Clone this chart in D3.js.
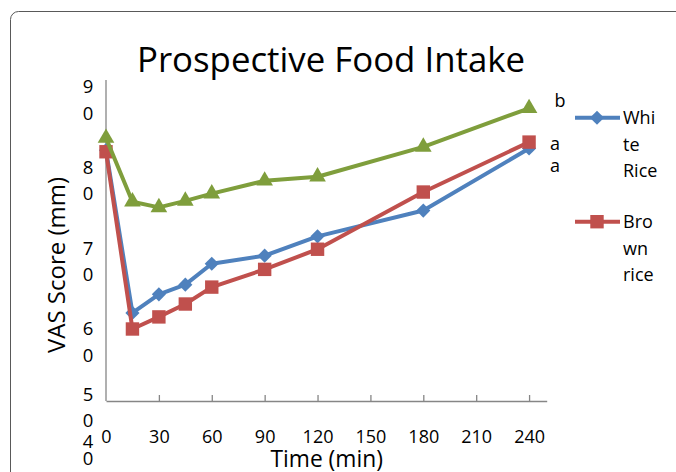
<!DOCTYPE html>
<html>
<head>
<meta charset="utf-8">
<script src="https://cdn.jsdelivr.net/npm/d3@7"></script>
<style>
  body { margin: 0; background: #fff; }
  svg { display: block; }
  text { font-family: "Open Sans", sans-serif; fill: #000; }
</style>
</head>
<body>
<div id="chart"></div>
<script>
// values (VAS score, mm)
var times      = [0, 15, 30, 45, 60, 90, 120, 180, 240];
var whiteRice  = [83.8, 63.6, 65.9, 67.1, 69.7, 70.7, 73.1, 76.3, 84.0];
var brownRice  = [83.6, 61.6, 63.1, 64.7, 66.8, 69.0, 71.5, 78.6, 84.8];
var thirdSeries = [85.3, 77.4, 76.7, 77.5, 78.4, 80.0, 80.5, 84.2, 89.0];

var xTicks = [0, 30, 60, 90, 120, 150, 180, 210, 240];
var yTicks = [40, 50, 60, 70, 80, 90];

// legend names, wrapped the way the original wraps them
var legendNames = [["Whi", "te", "Rice"], ["Bro", "wn", "rice"]];
// significance letters at the 240 min end: [letter, series index]
var sigLetters = [["b", 2], ["a", 1], ["a", 0]];

var W = 676, H = 472;
var plot = {left: 106, right: 546.7, top: 80, bottom: 401};

var x = d3.scaleLinear().domain([0, 250]).range([plot.left, plot.right]);
var y = d3.scaleLinear().domain([40, 90]).range([503, 100.2]);

var series = [
  {name: "White Rice", values: whiteRice,  color: "#4F81BD", marker: "diamond"},
  {name: "Brown rice", values: brownRice,  color: "#C0504D", marker: "square"},
  {name: "",           values: thirdSeries, color: "#7F9E3C", marker: "triangle"}
];

var svg = d3.select("#chart").append("svg")
    .attr("width", W)
    .attr("height", H);

// chart area frame (runs off the right and bottom edge)
svg.append("rect")
    .attr("x", 10.5).attr("y", 11.5)
    .attr("width", 720).attr("height", 520)
    .attr("rx", 8)
    .attr("fill", "none")
    .attr("stroke", "#595959")
    .attr("stroke-width", 1);

svg.append("text")
    .attr("x", 331).attr("y", 71.7)
    .attr("text-anchor", "middle")
    .style("font-size", "34.8px")
    .text("Prospective Food Intake");

// axes
var xAxis = d3.axisBottom(x)
    .tickValues(xTicks)
    .tickSizeInner(-6)
    .tickSizeOuter(0)
    .tickPadding(0)
    .tickFormat(d3.format("d"));

var gx = svg.append("g")
    .attr("transform", "translate(0," + plot.bottom + ")")
    .call(xAxis);
gx.select(".domain").attr("stroke", "#868686").attr("stroke-width", 1.3);
gx.selectAll(".tick line").attr("stroke", "#868686").attr("stroke-width", 1.3)
    .attr("display", function(d) { return d === 0 ? "none" : null; });
gx.selectAll(".tick text")
    .attr("y", 42).attr("dy", null)
    .attr("fill", "#000")
    .style("font-size", "18px")
    .style("font-family", "'Open Sans', sans-serif");

svg.append("line")
    .attr("x1", plot.left).attr("x2", plot.left)
    .attr("y1", plot.top).attr("y2", plot.bottom)
    .attr("stroke", "#868686").attr("stroke-width", 1.3);

// y tick labels: wrapped digit by digit; the lowest ones get pushed up so they stack,
// and the very last one is squeezed against the bottom edge
var yLab = svg.append("g").selectAll("g")
    .data(yTicks)
  .enter().append("g")
    .attr("transform", function(d, i) {
      var c = Math.min(y(d), 450 - 42.5 * i);
      return "translate(88," + c + ")";
    });
yLab.selectAll("text")
    .data(function(d, i) {
      var gap = i === 0 ? 16.5 : 26.5;
      return String(d).split("").map(function(ch) { return {ch: ch, gap: gap}; });
    })
  .enter().append("text")
    .attr("y", function(d, i) { return (i - 0.5) * d.gap; })
    .attr("dy", "0.35em")
    .attr("text-anchor", "middle")
    .style("font-size", "18.5px")
    .text(function(d) { return d.ch; });

svg.append("text")
    .attr("transform", "translate(57,265) rotate(-90)")
    .attr("text-anchor", "middle")
    .attr("dy", "0.35em")
    .style("font-size", "24px")
    .text("VAS Score (mm)");

svg.append("text")
    .attr("x", 326.7).attr("y", 467)
    .attr("text-anchor", "middle")
    .style("font-size", "22.8px")
    .text("Time (min)");

// series
var line = d3.line()
    .x(function(d, i) { return x(times[i]); })
    .y(function(d) { return y(d); });

function markerPath(kind) {
  if (kind === "diamond") return d3.symbol().type(d3.symbolSquare).size(100)();
  if (kind === "square") return d3.symbol().type(d3.symbolSquare).size(180)();
  return d3.symbol().type(d3.symbolTriangle).size(120)();
}

var sg = svg.append("g").selectAll("g")
    .data(series)
  .enter().append("g");

sg.append("path")
    .attr("d", function(s) { return line(s.values); })
    .attr("fill", "none")
    .attr("stroke", function(s) { return s.color; })
    .attr("stroke-width", 4)
    .attr("stroke-linejoin", "round");

sg.selectAll("path.mk")
    .data(function(s) { return s.values.map(function(v, i) { return {s: s, v: v, t: times[i]}; }); })
  .enter().append("path")
    .attr("class", "mk")
    .attr("d", function(d) { return markerPath(d.s.marker); })
    .attr("transform", function(d) {
      return "translate(" + x(d.t) + "," + y(d.v) + ")" + (d.s.marker === "diamond" ? " rotate(45)" : "");
    })
    .attr("fill", function(d) { return d.s.color; });

// significance letters
var letterDy = [-8, 2, 17];
svg.append("g").selectAll("text")
    .data(sigLetters)
  .enter().append("text")
    .attr("x", function(d, i) { return x(240) + (i === 0 ? 31 : 26); })
    .attr("y", function(d, i) { return y(series[d[1]].values[8]) + letterDy[i]; })
    .attr("dy", "0.35em")
    .attr("text-anchor", "middle")
    .style("font-size", "18px")
    .text(function(d) { return d[0]; });

// legend (only the two rice series)
var lg = svg.append("g").selectAll("g")
    .data(series.slice(0, 2))
  .enter().append("g")
    .attr("transform", function(d, i) { return "translate(575," + (117.7 + i * 104) + ")"; });

lg.append("line")
    .attr("x1", 0).attr("x2", 45)
    .attr("stroke", function(d) { return d.color; })
    .attr("stroke-width", 4);

lg.append("path")
    .attr("d", function(d) { return markerPath(d.marker); })
    .attr("transform", function(d) { return "translate(22" + ",0)" + (d.marker === "diamond" ? " rotate(45)" : ""); })
    .attr("fill", function(d) { return d.color; });

lg.selectAll("text")
    .data(function(d, i) { return legendNames[i]; })
  .enter().append("text")
    .attr("x", 48)
    .attr("y", function(d, i) { return i * 26.7; })
    .attr("dy", "0.35em")
    .style("font-size", "18px")
    .text(function(d) { return d; });
</script>
</body>
</html>
